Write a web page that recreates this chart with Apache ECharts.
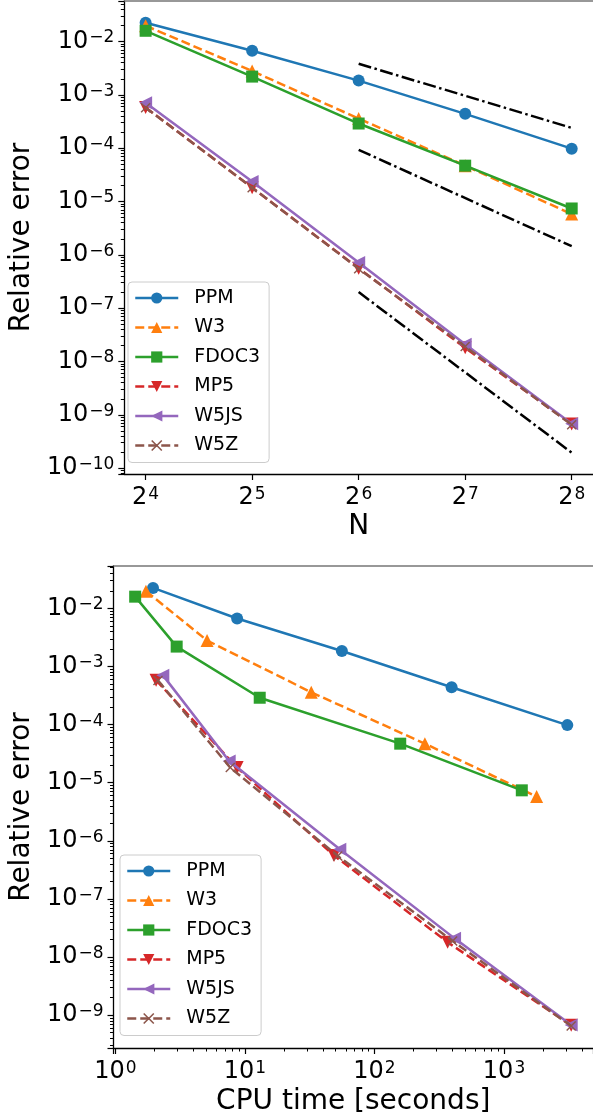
<!DOCTYPE html>
<html>
<head>
<meta charset="utf-8">
<script src="https://cdn.jsdelivr.net/npm/echarts@6/dist/echarts.min.js"></script>
<style>
html,body{margin:0;padding:0;background:#fff;}
#chart{width:593px;height:1119px;}
</style>
</head>
<body>
<div id="chart"></div>
<script>
// ---- data ----
const seriesNames = ['PPM', 'W3', 'FDOC3', 'MP5', 'W5JS', 'W5Z'];
const gridN = [16, 32, 64, 128, 256];

const errPPM   = [0.0225, 0.0067, 0.00185, 0.00044, 0.000098];
const errW3    = [0.0198, 0.0028, 0.00036, 0.000047, 0.0000058];
const errFDOC3 = [0.0159, 0.0022, 0.00029, 0.000047, 0.0000074];
const errMP5   = [0.00058, 0.0000182, 0.00000056, 0.000000018, 6.7e-10];
const errW5JS  = [0.00071, 0.0000237, 0.00000072, 0.000000021, 6.8e-10];
const errW5Z   = [0.000575, 0.0000182, 0.00000055, 0.000000019, 6.5e-10];

const cpuPPM   = [1.95, 8.7, 56, 394, 3080];
const cpuW3    = [1.72, 5.1, 32.5, 245, 1785];
const cpuFDOC3 = [1.42, 2.97, 13, 158, 1372];
const cpuMP5   = [2.06, 8.7, 48.7, 367, 3300];
const cpuW5JS  = [2.32, 7.55, 54, 415, 3300];
const cpuW5Z   = [2.13, 7.7, 52, 401, 3300];

const refN  = [64, 256];
const ref2  = [3.84e-3, 2.4e-4];
const ref3  = [9.3e-5, 1.45e-6];
const ref5  = [2.0e-7, 1.95e-10];

// ---- styling ----
const FONT = 'DejaVu Sans';
const colors = ['#1f77b4', '#ff7f0e', '#2ca02c', '#d62728', '#9467bd', '#8c564b'];
const xPath = 'path://M0,1 L1,0 L5,4 L9,0 L10,1 L6,5 L10,9 L9,10 L5,6 L1,10 L0,9 L4,5 Z';
const styles = [
  {symbol: 'circle', size: 12, rot: 0, dash: 'solid'},
  {symbol: 'triangle', size: 13, rot: 0, dash: [9, 4]},
  {symbol: 'rect', size: 12, rot: 0, dash: 'solid'},
  {symbol: 'triangle', size: 13, rot: 180, dash: [9, 4]},
  {symbol: 'triangle', size: 13, rot: 90, dash: 'solid'},
  {symbol: xPath, size: 10, rot: 0, dash: [9, 4]}
];
const errs = [errPPM, errW3, errFDOC3, errMP5, errW5JS, errW5Z];
const cpus = [cpuPPM, cpuW3, cpuFDOC3, cpuMP5, cpuW5JS, cpuW5Z];

const rich = {
  b: {fontSize: 24, fontFamily: FONT, color: '#000', lineHeight: 24, verticalAlign: 'bottom'},
  s: {fontSize: 17, fontFamily: FONT, color: '#000', lineHeight: 17, verticalAlign: 'top', padding: [0, 0, 0, 1]}
};
function powLabel(base) {
  return function (v) {
    const e = Math.round(Math.log(v) / Math.log(base));
    const s = (e < 0 ? '\u2212' + (-e) : '' + e);
    return '{b|' + base + '}{s|' + s + '}';
  };
}

function mkSeries(i, xs, ys, xIdx, yIdx) {
  const st = styles[i];
  return {
    name: seriesNames[i],
    type: 'line',
    xAxisIndex: xIdx, yAxisIndex: yIdx,
    data: xs.map((x, k) => [x, ys[k]]),
    symbol: st.symbol, symbolSize: st.size, symbolRotate: st.rot,
    showSymbol: true,
    color: colors[i],
    itemStyle: {color: colors[i]},
    lineStyle: {color: colors[i], width: 2.5, type: st.dash},
    z: 3 + i,
    animation: false
  };
}
function refSeries(ys) {
  return {
    type: 'line', xAxisIndex: 0, yAxisIndex: 0,
    data: refN.map((x, k) => [x, ys[k]]),
    symbol: 'none',
    lineStyle: {color: '#000', width: 2.5, type: [13, 3.5, 2.5, 3.5]},
    z: 2, animation: false, silent: true
  };
}

const series = [];
for (let i = 0; i < 6; i++) series.push(mkSeries(i, gridN, errs[i], 0, 0));
series.push(refSeries(ref2), refSeries(ref3), refSeries(ref5));
for (let i = 0; i < 6; i++) series.push(mkSeries(i, cpus[i], errs[i], 2, 1));

const axisLineBlack = {show: true, lineStyle: {color: '#000', width: 1.3}};
const tickOut = {show: true, inside: false, length: 6, lineStyle: {color: '#000', width: 1.2}};

const legendCommon = {
  orient: 'vertical',
  data: seriesNames,
  itemWidth: 43, itemHeight: 14, itemGap: 9.5,
  lineStyle: {width: 2.5},
  backgroundColor: 'rgba(255,255,255,0.8)',
  borderColor: '#cccccc', borderWidth: 1, borderRadius: 4,
  padding: [6, 9, 7, 6],
  textStyle: {fontFamily: FONT, fontSize: 19, color: '#000', lineHeight: 20, padding: [0, 0, 0, 11]},
  selectedMode: false
};

const option = {
  backgroundColor: '#fff',
  animation: false,
  textStyle: {fontFamily: FONT},
  grid: [
    {left: 117, top: 1, width: 480, height: 473, containLabel: false},
    {left: 111, top: 566, width: 485, height: 482, containLabel: false}
  ],
  legend: [
    Object.assign({left: 128, top: 282}, legendCommon),
    Object.assign({left: 120, top: 855}, legendCommon)
  ],
  xAxis: [
    {
      type: 'log', logBase: 2, gridIndex: 0,
      min: Math.pow(2, 3.8), max: Math.pow(2, 8.2),
      axisLine: axisLineBlack, axisTick: tickOut,
      splitLine: {show: false},
      axisLabel: {formatter: powLabel(2), rich: rich, margin: 12, showMinLabel: false, showMaxLabel: false},
      name: 'N', nameLocation: 'middle', nameGap: 39,
      nameTextStyle: {fontFamily: FONT, fontSize: 28, color: '#000'}
    },
    {
      type: 'value', gridIndex: 0, position: 'top', min: 0, max: 1,
      axisLine: {show: true, lineStyle: {color: '#777', width: 1.5}},
      axisTick: {show: false}, axisLabel: {show: false}, splitLine: {show: false}
    },
    {
      type: 'log', logBase: 10, gridIndex: 1,
      min: Math.pow(10, -0.015), max: Math.pow(10, 3.687),
      axisLine: axisLineBlack, axisTick: tickOut,
      minorTick: {show: true, splitNumber: 9, length: 3.5, lineStyle: {color: '#000', width: 1}},
      splitLine: {show: false},
      axisLabel: {formatter: powLabel(10), rich: rich, margin: 12, showMinLabel: false, showMaxLabel: false},
      name: 'CPU time [seconds]', nameLocation: 'middle', nameGap: 40,
      nameTextStyle: {fontFamily: FONT, fontSize: 28, color: '#000'}
    },
    {
      type: 'value', gridIndex: 1, position: 'top', min: 0, max: 1,
      axisLine: {show: true, lineStyle: {color: '#777', width: 1.5}},
      axisTick: {show: false}, axisLabel: {show: false}, splitLine: {show: false}
    }
  ],
  yAxis: [
    {
      type: 'log', logBase: 10, gridIndex: 0,
      min: Math.pow(10, -10.11), max: Math.pow(10, -1.24),
      axisLine: axisLineBlack, axisTick: tickOut,
      minorTick: {show: true, splitNumber: 9, length: 3.5, lineStyle: {color: '#000', width: 1}},
      splitLine: {show: false},
      axisLabel: {formatter: powLabel(10), rich: rich, margin: 10, showMinLabel: false, showMaxLabel: false},
      name: 'Relative error', nameLocation: 'middle', nameGap: 72, nameRotate: 90,
      nameTextStyle: {fontFamily: FONT, fontSize: 28, color: '#000'}
    },
    {
      type: 'log', logBase: 10, gridIndex: 1,
      min: Math.pow(10, -9.564), max: Math.pow(10, -1.271),
      axisLine: axisLineBlack, axisTick: tickOut,
      minorTick: {show: true, splitNumber: 9, length: 3.5, lineStyle: {color: '#000', width: 1}},
      splitLine: {show: false},
      axisLabel: {formatter: powLabel(10), rich: rich, margin: 10, showMinLabel: false, showMaxLabel: false},
      name: 'Relative error', nameLocation: 'middle', nameGap: 66, nameRotate: 90,
      nameTextStyle: {fontFamily: FONT, fontSize: 28, color: '#000'}
    }
  ],
  series: series
};

const chart = echarts.init(document.getElementById('chart'), null, {renderer: 'canvas'});
chart.setOption(option);
</script>
</body>
</html>
